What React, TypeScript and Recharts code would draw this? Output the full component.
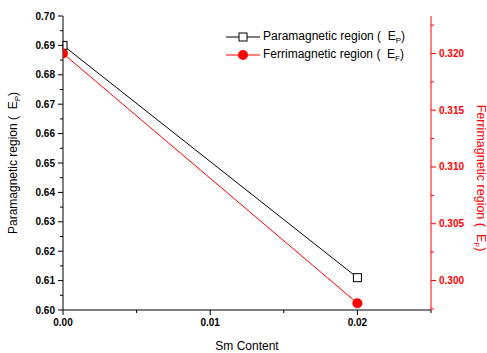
import { LineChart, Line, XAxis, YAxis, Legend } from 'recharts'

const smContent = [0, 0.02]
const paraValues = [0.69, 0.611]
const ferriValues = [0.32, 0.298]

const xMajor = [0, 0.01, 0.02]
const xMinor = [0.005, 0.015, 0.025]
const leftMajor = [0.6, 0.61, 0.62, 0.63, 0.64, 0.65, 0.66, 0.67, 0.68, 0.69, 0.7]
const leftMinor = [0.605, 0.615, 0.625, 0.635, 0.645, 0.655, 0.665, 0.675, 0.685, 0.695]
const rightMajor = [0.3, 0.305, 0.31, 0.315, 0.32]
const rightMinor = [0.2975, 0.3025, 0.3075, 0.3125, 0.3175, 0.3225]

const data = smContent.map((x, i) => ({ x, para: paraValues[i], ferri: ferriValues[i] }))

const FONT = 'Arial, "Liberation Sans", sans-serif'
const RED = '#ff0000'

const isMajor = (list: number[], v: number) => list.some((m) => Math.abs(m - v) < 1e-9)

// tickLine off, ticks drawn here so minor ones can be shorter
function LeftTick(props: any) {
  const { x, y, payload } = props
  const ax = x + 7
  const major = isMajor(leftMajor, payload.value)
  return (
    <g>
      <line x1={ax} x2={ax - (major ? 5 : 3)} y1={y} y2={y} stroke="#000" />
      {major && (
        <text x={ax - 8} y={y} dy="0.35em" textAnchor="end" fontSize={10} fontWeight="bold" fontFamily={FONT} fill="#000">
          {payload.value.toFixed(2)}
        </text>
      )}
    </g>
  )
}

function RightTick(props: any) {
  const { x, y, payload } = props
  const ax = x - 7
  const major = isMajor(rightMajor, payload.value)
  return (
    <g>
      <line x1={ax} x2={ax + (major ? 5 : 3)} y1={y} y2={y} stroke={RED} />
      {major && (
        <text x={ax + 8} y={y} dy="0.35em" textAnchor="start" fontSize={10} fontWeight="bold" fontFamily={FONT} fill={RED}>
          {payload.value.toFixed(3)}
        </text>
      )}
    </g>
  )
}

function BottomTick(props: any) {
  const { x, y, payload } = props
  const ay = y - 7
  const major = isMajor(xMajor, payload.value)
  return (
    <g>
      <line x1={x} x2={x} y1={ay} y2={ay + (major ? 5 : 3)} stroke="#000" />
      {major && (
        <text x={x} y={ay + 9} dy="0.71em" textAnchor="middle" fontSize={10} fontWeight="bold" fontFamily={FONT} fill="#000">
          {payload.value.toFixed(2)}
        </text>
      )}
    </g>
  )
}

function LeftTitle({ viewBox }: any) {
  const cx = 17
  const cy = viewBox.y + viewBox.height / 2
  return (
    <text transform={`translate(${cx},${cy}) rotate(-90)`} textAnchor="middle" fontSize={12} fontFamily={FONT} fill="#000" style={{ whiteSpace: 'pre' }}>
      {'Paramagnetic region (  E'}<tspan fontSize={8} dy={3}>P</tspan><tspan dy={-3}>)</tspan>
    </text>
  )
}

function RightTitle({ viewBox }: any) {
  const cx = viewBox.x + 46
  const cy = viewBox.y + viewBox.height / 2 + 15
  return (
    <text transform={`translate(${cx},${cy}) rotate(90)`} textAnchor="middle" fontSize={12.5} fontFamily={FONT} fill={RED} style={{ whiteSpace: 'pre' }}>
      {'Ferrimagnetic region (  E'}<tspan fontSize={8} dy={3}>F</tspan><tspan dy={-3}>)</tspan>
    </text>
  )
}

// markers sitting on the left edge are cut by the plot area, as in the original
function SquareDot(props: any) {
  const { cx, cy } = props
  const x0 = Math.max(cx - 4, 63)
  return <rect x={x0} y={cy - 4} width={cx + 4 - x0} height={8} fill="#fff" stroke="#000" strokeWidth={1} />
}

function RoundDot(props: any) {
  const { cx, cy } = props
  if (cx - 5 < 63) {
    const dx = 63 - cx
    const h = Math.sqrt(25 - dx * dx)
    return <path d={`M63,${cy - h} A5,5 0 0 1 63,${cy + h} Z`} fill={RED} />
  }
  return <circle cx={cx} cy={cy} r={5} fill={RED} />
}

function LegendBox() {
  const row = (color: string, marker: any, label: string, sub: string) => (
    <div style={{ display: 'flex', alignItems: 'center', height: 18 }}>
      <svg width={34} height={12}>
        <line x1={0} x2={34} y1={6} y2={6} stroke={color} />
        {marker}
      </svg>
      <span style={{ marginLeft: 3, fontSize: 12, fontFamily: FONT, color: '#000' }}>
        {label} (&nbsp;&nbsp;E<sub style={{ fontSize: 8 }}>{sub}</sub>)
      </span>
    </div>
  )
  return (
    <div>
      {row('#000', <rect x={13} y={2} width={8} height={8} fill="#fff" stroke="#000" />, 'Paramagnetic region', 'P')}
      {row(RED, <circle cx={17} cy={6} r={5} fill={RED} />, 'Ferrimagnetic region', 'F')}
    </div>
  )
}

export default function App() {
  return (
    <div style={{ position: 'absolute', left: 0, top: 0, background: '#fff' }}>
      <LineChart width={487} height={353} data={data} margin={{ top: 16, right: 0, left: 0, bottom: 0 }}>
        <XAxis
          xAxisId="top"
          orientation="top"
          dataKey="x"
          type="number"
          domain={[0, 0.025]}
          height={0}
          tick={false}
          tickLine={false}
          axisLine={{ stroke: '#000' }}
        />
        <XAxis
          dataKey="x"
          type="number"
          domain={[0, 0.025]}
          ticks={[...xMajor, ...xMinor]}
          interval={0}
          height={43}
          tickLine={false}
          tickSize={5}
          tickMargin={2}
          tick={<BottomTick />}
          axisLine={{ stroke: '#000' }}
          label={{ value: 'Sm Content', position: 'insideBottom', offset: 0, fontSize: 12, fontFamily: FONT, fill: '#000', dy: -3 }}
        />
        <YAxis
          yAxisId="left"
          domain={[0.6, 0.7]}
          ticks={[...leftMajor, ...leftMinor]}
          interval={0}
          width={63}
          tickLine={false}
          tickSize={5}
          tickMargin={2}
          tick={<LeftTick />}
          axisLine={{ stroke: '#000' }}
          label={<LeftTitle />}
        />
        <YAxis
          yAxisId="right"
          orientation="right"
          domain={[0.2974, 0.3233]}
          ticks={[...rightMajor, ...rightMinor]}
          interval={0}
          width={56}
          tickLine={false}
          tickSize={5}
          tickMargin={2}
          tick={<RightTick />}
          axisLine={{ stroke: RED }}
          label={<RightTitle />}
        />
        <Legend
          layout="vertical"
          align="center"
          verticalAlign="middle"
          wrapperStyle={{ top: 28, left: 226, width: 220 }}
          content={<LegendBox />}
        />
        <Line
          yAxisId="left"
          dataKey="para"
          stroke="#000"
          strokeWidth={1}
          dot={<SquareDot />}
          isAnimationActive={false}
        />
        <Line
          yAxisId="right"
          dataKey="ferri"
          stroke={RED}
          strokeWidth={1}
          dot={<RoundDot />}
          isAnimationActive={false}
        />
      </LineChart>
    </div>
  )
}
